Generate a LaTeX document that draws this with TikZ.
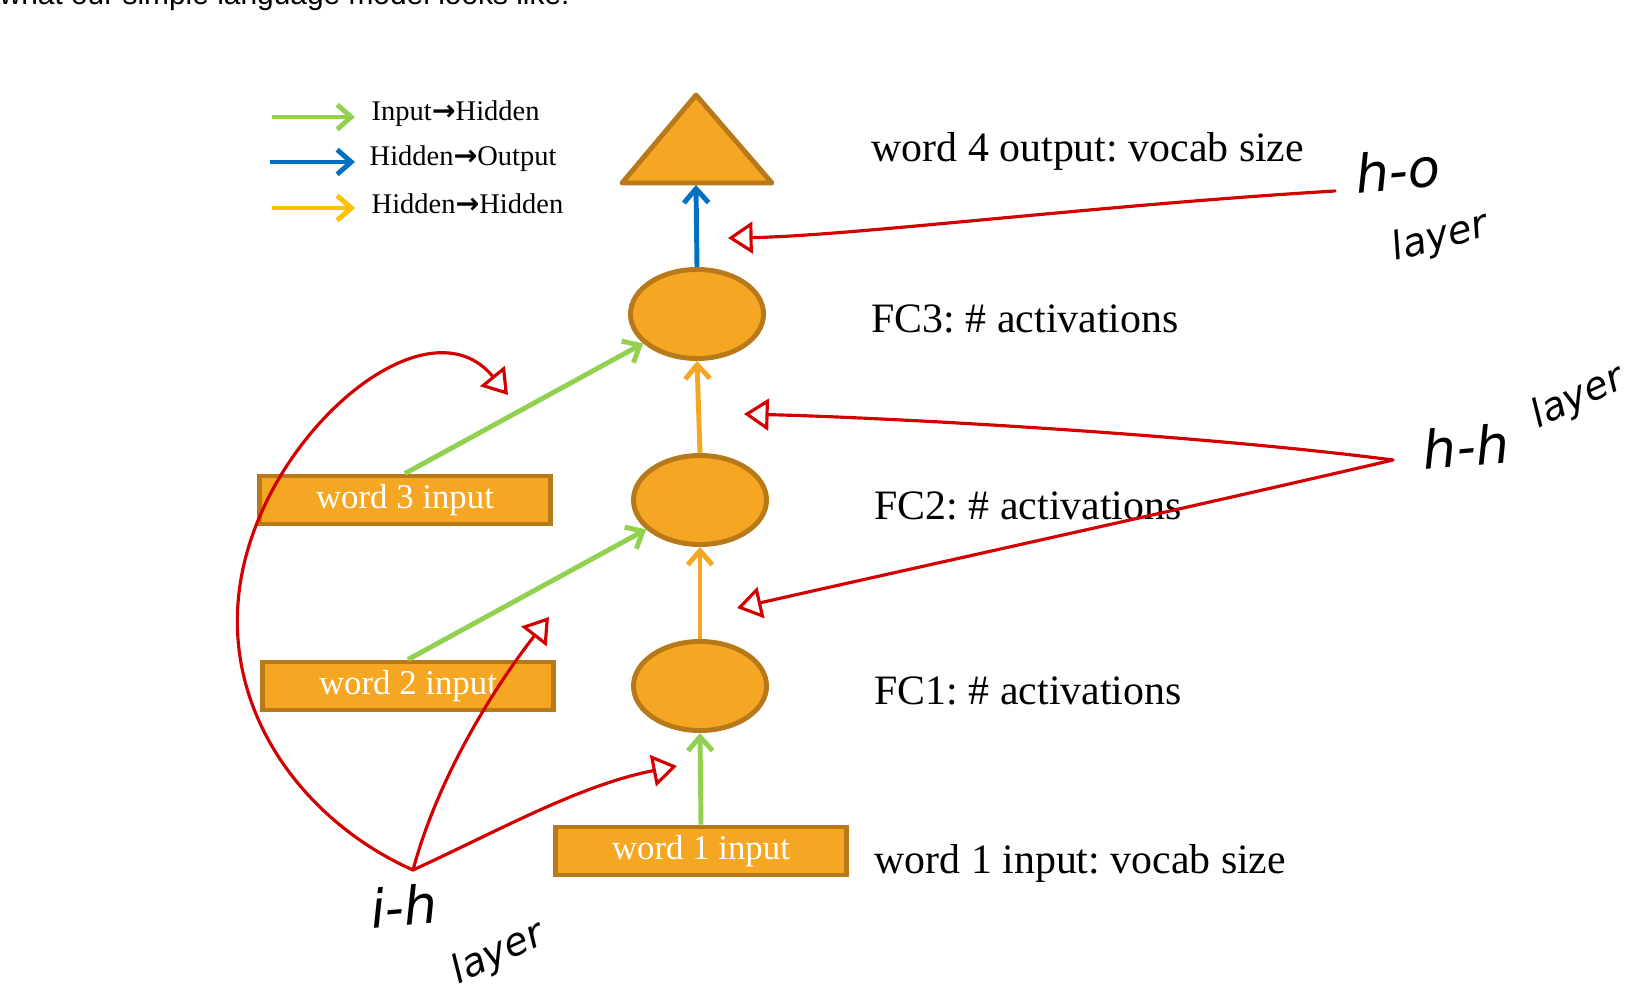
\documentclass[tikz,border=0pt]{standalone}
\usepackage{fontspec}
\setmainfont{Liberation Serif}
\newfontfamily\topfont{Liberation Sans}
\newfontfamily\handfont{DejaVu Sans}
\usetikzlibrary{arrows.meta,shapes.geometric,positioning}
\definecolor{hidorange}{RGB}{245,166,35}
\definecolor{hidedge}{RGB}{184,121,26}
\definecolor{inpgreen}{RGB}{146,208,80}
\definecolor{outblue}{RGB}{0,112,192}
\definecolor{hhyellow}{RGB}{255,192,0}
\definecolor{annred}{RGB}{210,0,0}
\newcommand{\legarrow}{{\handfont\bfseries\upshape →}}
\frenchspacing

\tikzset{
  hidden/.style={ellipse, draw=hidedge, fill=hidorange, line width=1.4pt,
    minimum width=1.33cm, minimum height=0.89cm},
  wordbox/.style={rectangle, draw=hidedge, fill=hidorange, line width=1.4pt,
    minimum width=2.9cm, minimum height=0.48cm, inner sep=0pt, text=white,
    font=\fontsize{9.9}{11}\selectfont},
  layertext/.style={anchor=west, inner sep=0pt, font=\fontsize{11.9}{14}\selectfont},
  legtext/.style={anchor=west, inner sep=0pt, font=\fontsize{8.1}{10}\selectfont},
  tipbarb/.style={-{Straight Barb[length=4pt,width=7pt]}},
  ihline/.style={draw=inpgreen, line width=1.4pt, tipbarb},
  hoarrow/.style={draw=outblue, line width=1.4pt, tipbarb},
  hharrow/.style={draw=hidorange, line width=1.4pt, tipbarb},
  annot/.style={draw=annred, line width=0.9pt, line cap=round,
    -{Triangle[open,length=7pt,width=9pt]}},
  handbig/.style={inner sep=0pt, font=\handfont\itshape\fontsize{15}{18}\selectfont},
  handsmall/.style={inner sep=0pt, font=\handfont\itshape\fontsize{11}{13}\selectfont},
}

\begin{document}
\begin{tikzpicture}[x=0.01cm, y=-0.01cm]
    \useasboundingbox (0,0) rectangle (1639,997);

    % Text above the figure (cut off)
    \node[anchor=base west, inner sep=0pt, font=\topfont\fontsize{8.5}{10}\selectfont]
      (caption) at (-1,5) {what our simple language model looks like.};

    % Legend
    \node[legtext] (legIH) at (371,114) {Input\legarrow Hidden};
    \node[legtext] (legHO) at (369,159) {Hidden\legarrow Output};
    \node[legtext] (legHH) at (371,204) {Hidden\legarrow Hidden};
    \coordinate (legA) at (272,117);
    \coordinate (legB) at (270,162);
    \coordinate (legC) at (272,208);
    \draw[ihline] (legA) -- ([xshift=-0.16cm]legIH.west |- legA);
    \draw[hoarrow] (legB) -- ([xshift=-0.14cm]legHO.west |- legB);
    \draw[draw=hhyellow, line width=1.4pt, tipbarb] (legC) -- ([xshift=-0.16cm]legHH.west |- legC);

    % Output layer
    \coordinate (outapex) at (696,95);
    \coordinate (outleft) at (622,183);
    \coordinate (outright) at (772,183);
    \coordinate (outbase) at (696,183);
    \draw[draw=hidedge, fill=hidorange, line width=1.4pt, line join=round]
      (outapex) -- (outright) -- (outleft) -- cycle;

    % Hidden layers
    \node[hidden] (fc3) at (697,314) {};
    \node[hidden] (fc2) at (700,500) {};
    \node[hidden] (fc1) at (700,686) {};

    % Inputs
    \node[wordbox] (word1) at (701,851) {word 1 input};
    \node[wordbox] (word2) at (408,686) {word 2 input};
    \node[wordbox] (word3) at (405,500) {word 3 input};

    % Connections
    \draw[ihline] (word1.north) -- (fc1.south);
    \draw[ihline] (word2.north) -- (fc2);
    \draw[ihline] (word3.north) -- (fc3);
    \draw[hharrow] (fc1.north) -- (fc2.south);
    \draw[hharrow] (fc2.north) -- (fc3.south);
    \draw[hoarrow] (fc3.north) -- ([yshift=-0.02cm]outbase);

    % Layer labels
    \node[layertext] (lblout) at (871,151) {word 4 output: vocab size};
    \node[layertext] (lblfc3) at (871,319) {FC3: \# activations};
    \node[layertext] (lblfc2) at (874,506) {FC2: \# activations};
    \node[layertext] (lblfc1) at (874,691) {FC1: \# activations};
    \node[layertext] (lblin) at (874,863) {word 1 input: vocab size};

    % Handwritten notes
    \node[handbig, rotate=5] (hoA) at (1398,170) {h-o};
    \node[handsmall, rotate=15] (hoB) at (1440,238) {layer};
    \node[handbig, rotate=5] (hhA) at (1466,446) {h-h};
    \node[handsmall, rotate=25] (hhB) at (1578,398) {layer};
    \node[handbig, rotate=5] (ihA) at (404,906) {i-h};
    \node[handsmall, rotate=25] (ihB) at (498,954) {layer};

    \coordinate (hoStart) at (1335,191);
    \coordinate (hhStart) at (1393,460);
    \coordinate (ihStart) at (413,870);

    \draw[annot] (hoStart) .. controls (1100,205) and (850,236) .. (728,238);
    \draw[annot] (hhStart) .. controls (1200,435) and (900,418) .. (744,414);
    \draw[annot] (hhStart) .. controls (1200,505) and (950,560) .. (737,608);
    \draw[annot] (ihStart) .. controls (300,820) and (210,700) .. (245,560)
                 .. controls (280,420) and (430,300) .. (508,395);
    \draw[annot] (ihStart) .. controls (440,770) and (500,680) .. (549,617);
    \draw[annot] (ihStart) .. controls (500,830) and (580,785) .. (677,766);
\end{tikzpicture}
\end{document}
